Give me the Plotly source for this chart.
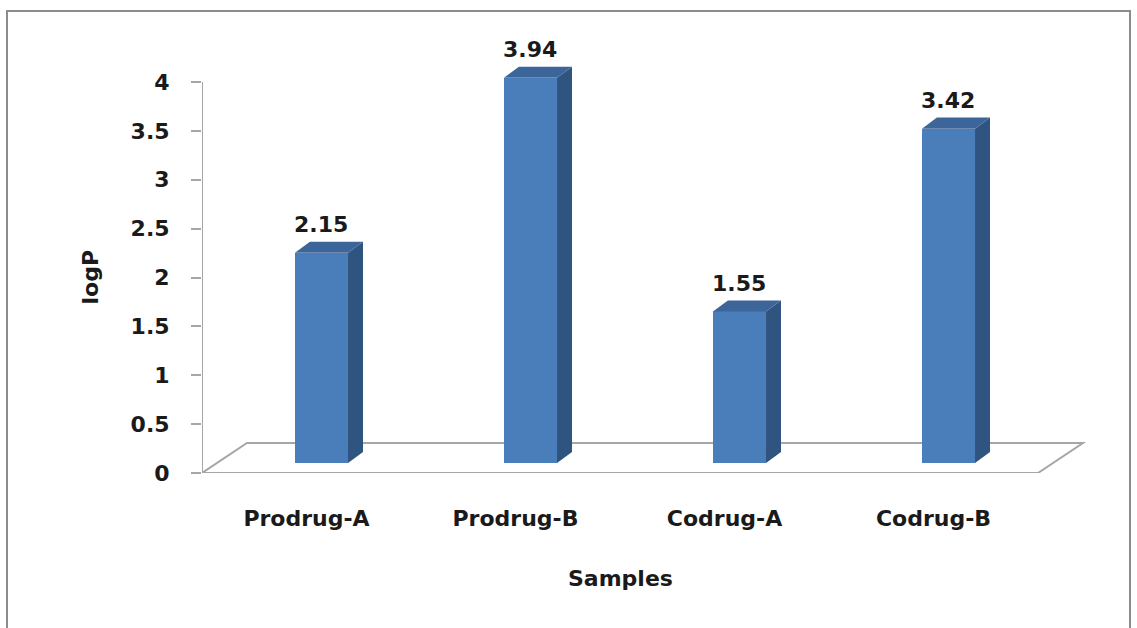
import plotly.graph_objects as go

# Partition coefficients of the samples
samples = ["Prodrug-A", "Prodrug-B", "Codrug-A", "Codrug-B"]
logp = [2.15, 3.94, 1.55, 3.42]
y_ticks = [0, 0.5, 1, 1.5, 2, 2.5, 3, 3.5, 4]

# Pseudo-3D geometry (data units)
FLOOR_DX, FLOOR_DY = 0.215, 0.307      # depth vector of the floor
BAR_W = 0.254                           # width of the front face
FRONT_DX, FRONT_DY = FLOOR_DX / 3, FLOOR_DY / 3   # bar front sits 1/3 deep
SIDE_DX, SIDE_DY = FLOOR_DX / 3, FLOOR_DY * 0.37  # bar depth

FRONT_COL = "#4a7ebb"
SIDE_COL = "#2f5480"
TOP_COL = "#3c659a"
GRID_COL = "#a6a6a6"
TEXT_COL = "#1a1a1a"
FONT = "DejaVu Sans"
FSIZE = 22

W, H = 1137, 628
ML, MR, MT, MB = 202, 42, 30, 155
n = len(samples)
x_lo, x_hi = -0.5, n - 0.5
px_per_x = 209.0
x_max = x_hi + (W - ML - MR - (x_hi - x_lo) * px_per_x) / px_per_x
px_per_y = 97.75
y_max = (H - MT - MB) / px_per_y


def bold(size=FSIZE):
    return dict(family=FONT, size=size, color=TEXT_COL, weight="bold")


fig = go.Figure()

centers = [i + FRONT_DX for i in range(n)]

# front faces
fig.add_trace(go.Bar(
    x=centers, y=logp, base=[FRONT_DY] * n, width=BAR_W,
    marker=dict(color=FRONT_COL, line=dict(width=0)),
    showlegend=False, hovertext=samples))

# side and top faces
for c, v in zip(centers, logp):
    xl, xr = c - BAR_W / 2, c + BAR_W / 2
    b, t = FRONT_DY, FRONT_DY + v
    fig.add_trace(go.Scatter(
        x=[xr, xr + SIDE_DX, xr + SIDE_DX, xr, xr],
        y=[b, b + SIDE_DY, t + SIDE_DY, t, b],
        fill="toself", fillcolor=SIDE_COL, mode="lines",
        line=dict(width=0, color=SIDE_COL),
        hoverinfo="skip", showlegend=False))
    fig.add_trace(go.Scatter(
        x=[xl, xr, xr + SIDE_DX, xl + SIDE_DX, xl],
        y=[t, t, t + SIDE_DY, t + SIDE_DY, t],
        fill="toself", fillcolor=TOP_COL, mode="lines",
        line=dict(width=0, color=TOP_COL),
        hoverinfo="skip", showlegend=False))
    fig.add_annotation(
        x=c, y=t + SIDE_DY, text=f"{v:.2f}", showarrow=False,
        yanchor="middle", yshift=17, font=bold())

# floor outline, kept beneath the bars
floor_pts = [(x_lo, 0), (x_hi, 0), (x_hi + FLOOR_DX, FLOOR_DY),
             (x_lo + FLOOR_DX, FLOOR_DY)]
fig.add_shape(type="path", xref="x", yref="y", layer="below",
              path="M " + " L ".join(f"{px},{py}" for px, py in floor_pts) + " Z",
              line=dict(color=GRID_COL, width=2), fillcolor="rgba(0,0,0,0)")

# value axis line (0 to 4 only)
fig.add_shape(type="line", xref="x", yref="y",
              x0=x_lo, x1=x_lo, y0=0, y1=y_ticks[-1],
              line=dict(color=GRID_COL, width=2))

# axis titles
fig.add_annotation(x=0, xref="paper", y=2, yref="y", text="logP",
                   textangle=-90, showarrow=False, xanchor="center",
                   xshift=-112, font=bold())
fig.add_annotation(x=(n - 1) / 2, xref="x", y=0, yref="paper", text="Samples",
                   showarrow=False, yanchor="middle", yshift=-105, font=bold())

# outer chart border
pw = W - ML - MR
ph = H - MT - MB
fig.add_shape(type="rect", xref="paper", yref="paper",
              x0=(7 - ML) / pw, x1=(1130 - ML) / pw,
              y0=(H - MB - 640) / ph, y1=(H - MB - 11) / ph,
              line=dict(color="#8c8c8c", width=2), layer="below")

fig.update_layout(
    width=W, height=H,
    margin=dict(l=ML, r=MR, t=MT, b=MB),
    paper_bgcolor="white", plot_bgcolor="white",
    bargap=0,
    xaxis=dict(range=[x_lo, x_max], tickvals=list(range(n)), ticktext=samples,
               showgrid=False, zeroline=False, showline=False, ticks="",
               ticklabelstandoff=30, tickfont=bold()),
    yaxis=dict(range=[0, y_max], tickvals=y_ticks,
               ticktext=[f"{t:g}" for t in y_ticks],
               showgrid=False, zeroline=False, showline=False,
               ticks="outside", ticklen=10, tickwidth=2, tickcolor=GRID_COL,
               ticklabelstandoff=17, tickfont=bold()),
)

fig.write_html("out.html")
